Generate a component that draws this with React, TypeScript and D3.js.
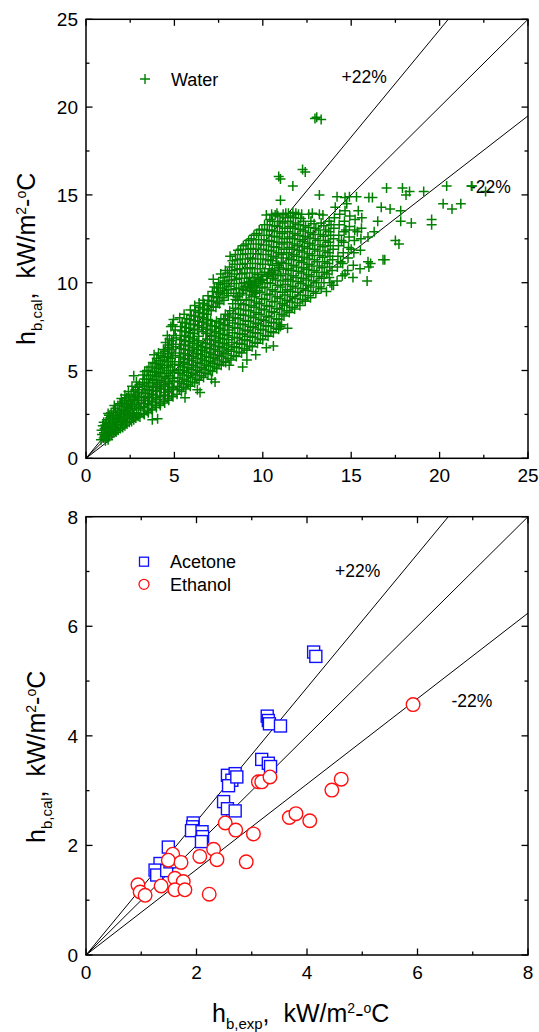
import React from 'react';
import * as d3 from 'd3';

// Water: measured vs. calculated boiling coefficients [h_exp, h_cal]
const waterPoints: [number, number][] = [
  // low heat flux core
  [0.85,1.05],[0.9,1.35],[0.88,1.6],[0.95,1.85],[1.0,1.15],[1.02,1.45],[1.05,1.7],[1.0,2.05],[1.1,1.0],[1.12,1.3],
  [1.15,1.55],[1.1,1.9],[1.18,2.2],[1.2,1.15],[1.25,1.4],[1.22,1.75],[1.28,2.0],[1.3,2.45],[1.32,1.25],[1.35,1.6],
  [1.38,1.9],[1.4,2.2],[1.42,2.6],[1.45,1.35],[1.48,1.7],[1.5,2.0],[1.52,2.35],[1.55,2.7],[1.58,1.45],[1.6,1.8],
  [1.62,2.1],[1.65,2.45],[1.68,2.85],[1.7,1.5],[1.72,1.95],[1.75,2.25],[1.78,2.6],[1.8,3.0],[1.82,1.6],[1.85,1.9],
  [1.88,2.3],[1.9,2.7],[1.92,3.1],[1.95,1.7],[1.98,2.05],[2.0,2.4],[2.02,2.8],[2.05,3.2],[2.08,1.75],[2.1,2.15],
  [2.12,2.55],[2.15,2.95],[2.18,3.3],[2.2,1.85],[2.22,2.25],[2.25,2.65],[2.28,3.05],[2.3,3.45],[2.32,1.95],[2.35,2.35],
  [2.38,2.75],[2.4,3.15],[2.42,3.55],[2.45,2.05],[2.48,2.45],[2.5,2.85],[2.52,3.25],[2.55,3.65],[2.58,2.1],[2.6,2.55],
  [2.62,2.95],[2.65,3.35],[2.68,3.8],[2.7,2.2],[2.72,2.6],[2.75,3.05],[2.78,3.5],[2.8,3.9],[2.82,2.3],[2.85,2.75],
  [2.88,3.15],[2.9,3.6],[2.92,4.05],[2.95,2.4],[2.98,2.85],[3.0,3.3],[3.0,3.75],[3.02,4.2],[2.7,4.7],[1.25,2.55],
  [1.05,1.25],[1.15,1.8],[1.25,1.05],[1.35,2.3],[1.45,1.55],[1.55,2.2],[1.65,1.65],[1.75,2.45],[1.85,2.1],[1.95,2.5],
  [2.05,1.95],[2.15,2.7],[2.25,2.05],[2.35,2.9],[2.45,2.25],[2.55,3.05],[2.65,2.4],[2.75,3.3],[2.85,2.5],[2.95,3.45],
  [2.4,3.8],[2.6,4.1],[2.85,4.35],[2.2,3.6],[2.0,3.4],[1.6,3.0],
  [3.75,2.2],[4.05,2.25],
  // 3 - 5
  [3.05,2.35],[3.1,2.75],[3.12,3.1],[3.15,3.5],[3.18,3.9],[3.2,4.3],[3.22,4.75],
  [3.3,2.5],[3.32,2.9],[3.35,3.3],[3.38,3.7],[3.4,4.1],[3.42,4.5],[3.45,5.0],
  [3.52,2.6],[3.55,3.05],[3.58,3.45],[3.6,3.85],[3.62,4.3],[3.65,4.7],[3.68,5.2],
  [3.75,2.75],[3.78,3.2],[3.8,3.6],[3.82,4.05],[3.85,4.45],[3.88,4.9],[3.9,5.4],[3.85,5.9],
  [3.98,2.9],[4.0,3.35],[4.02,3.8],[4.05,4.2],[4.08,4.65],[4.1,5.1],[4.12,5.55],[4.1,6.0],
  [4.2,3.0],[4.22,3.5],[4.25,3.95],[4.28,4.4],[4.3,4.85],[4.32,5.3],[4.35,5.75],[4.38,6.2],
  [4.45,3.15],[4.48,3.6],[4.5,4.1],[4.52,4.55],[4.55,5.0],[4.58,5.5],[4.6,5.95],[4.62,6.45],[4.6,7.0],
  [4.68,3.3],[4.7,3.8],[4.72,4.25],[4.75,4.7],[4.78,5.2],[4.8,5.7],[4.82,6.2],[4.85,6.7],[4.8,7.5],
  [4.92,3.5],[4.95,3.95],[4.98,4.4],[5.0,4.9],[5.02,5.35],[5.05,5.85],[5.08,6.35],[5.1,6.85],[5.05,7.3],[4.95,7.9],
  [3.25,2.55],[3.26,2.95],[3.27,3.3],[3.28,3.72],[3.3,4.1],[3.3,4.52],[3.32,4.95],
  [3.47,2.7],[3.48,3.1],[3.5,3.5],[3.5,3.92],[3.52,4.3],[3.54,4.75],[3.56,5.2],
  [3.7,2.8],[3.7,3.25],[3.72,3.65],[3.74,4.1],[3.75,4.5],[3.77,4.95],[3.78,5.45],
  [3.92,3.0],[3.93,3.45],[3.95,3.85],[3.96,4.3],[3.97,4.75],[3.99,5.2],[4.0,5.7],
  [4.15,3.1],[4.16,3.55],[4.17,4.0],[4.18,4.45],[4.2,4.9],[4.22,5.35],[4.24,5.85],
  [4.38,3.25],[4.4,3.75],[4.4,4.2],[4.42,4.65],[4.43,5.15],[4.45,5.6],[4.47,6.1],[4.5,6.6],
  [4.62,3.4],[4.62,3.9],[4.64,4.35],[4.65,4.85],[4.67,5.3],[4.68,5.8],[4.7,6.3],[4.72,6.8],
  [4.85,3.55],[4.86,4.05],[4.88,4.55],[4.9,5.0],[4.9,5.5],[4.92,6.0],[4.94,6.5],[4.96,7.0],[4.9,7.6],
  // 5 - 8
  [5.15,3.65],[5.18,4.1],[5.2,4.6],[5.22,5.05],[5.25,5.5],[5.28,6.0],[5.3,6.5],[5.32,7.0],[5.35,7.5],[5.3,8.0],
  [5.4,3.8],[5.42,4.25],[5.45,4.75],[5.48,5.2],[5.5,5.65],[5.52,6.2],[5.55,6.7],[5.58,7.2],[5.6,7.7],[5.55,8.2],
  [5.65,3.95],[5.68,4.4],[5.7,4.9],[5.72,5.35],[5.75,5.85],[5.78,6.4],[5.8,6.9],[5.82,7.4],[5.85,7.9],[5.9,8.45],
  [5.9,4.1],[5.92,4.6],[5.95,5.05],[5.98,5.55],[6.0,6.05],[6.02,6.55],[6.05,7.1],[6.08,7.6],[6.1,8.1],[6.15,8.7],
  [6.15,4.3],[6.18,4.75],[6.2,5.2],[6.22,5.7],[6.25,6.2],[6.28,6.7],[6.3,7.3],[6.32,7.8],[6.35,8.3],[6.4,8.85],
  [6.4,4.45],[6.42,4.9],[6.45,5.4],[6.48,5.9],[6.5,6.35],[6.55,7.45],[6.58,8.0],[6.6,8.5],[6.62,9.0],
  [6.65,4.6],[6.68,5.05],[6.7,5.55],[6.72,6.05],[6.75,6.55],[6.78,7.1],[6.8,7.65],[6.82,8.2],[6.85,8.7],[6.9,9.25],
  [6.9,4.8],[6.92,5.25],[6.95,5.75],[6.98,6.25],[7.0,6.75],[7.02,7.3],[7.05,7.85],[7.08,8.4],[7.1,8.95],[7.15,9.5],[7.2,10.2],
  [7.15,4.95],[7.18,5.4],[7.2,5.9],[7.22,6.4],[7.25,6.95],[7.28,7.5],[7.35,8.6],[7.38,9.15],[7.4,9.7],
  [7.4,5.1],[7.42,5.6],[7.45,6.1],[7.48,6.6],[7.5,7.1],[7.52,7.7],[7.55,8.8],[7.58,9.35],[7.6,9.9],[7.62,10.5],
  [7.65,5.3],[7.68,5.8],[7.7,6.3],[7.72,6.8],[7.75,7.3],[7.78,7.9],[7.8,9.0],[7.82,9.55],[7.85,10.1],[7.88,10.7],
  [7.9,5.45],[7.92,5.95],[7.95,6.45],[7.98,7.0],[8.0,7.55],[8.02,8.1],[8.05,9.25],[8.08,9.8],[8.1,10.35],[8.12,10.9],[8.15,11.5],
  [5.6,3.45],[6.3,3.9],[6.45,3.75],[7.1,4.5],[7.3,4.35],
  [5.28,3.9],[5.3,4.35],[5.32,4.85],[5.34,5.3],[5.36,5.75],[5.38,6.25],[5.4,6.75],[5.42,7.25],[5.44,7.75],
  [5.53,4.05],[5.55,4.5],[5.57,5.0],[5.59,5.45],[5.61,5.95],[5.63,6.45],[5.65,6.95],[5.67,7.45],[5.7,7.95],
  [5.78,4.2],[5.8,4.7],[5.82,5.15],[5.84,5.65],[5.86,6.15],[5.88,6.65],[5.9,7.15],[5.92,7.65],[5.95,8.15],
  [6.03,4.35],[6.05,4.85],[6.07,5.3],[6.09,5.8],[6.11,6.3],[6.13,6.8],[6.15,7.35],[6.18,7.85],[6.2,8.4],
  [6.28,4.5],[6.3,5.0],[6.32,5.45],[6.34,5.95],[6.36,6.45],[6.38,6.95],[6.4,7.55],[6.43,8.05],[6.45,8.6],
  [6.53,4.7],[6.55,5.15],[6.57,5.65],[6.59,6.15],[6.61,6.6],[6.63,7.2],[6.66,7.75],[6.68,8.25],[6.7,8.8],
  [6.78,4.85],[6.8,5.3],[6.82,5.8],[6.84,6.3],[6.86,6.8],[6.88,7.35],[6.9,7.9],[6.93,8.45],[6.95,9.0],
  [7.03,5.0],[7.05,5.5],[7.07,6.0],[7.09,6.5],[7.11,7.0],[7.13,7.55],[7.2,8.65],[7.22,9.2],[7.25,9.75],
  [7.28,5.2],[7.3,5.7],[7.32,6.2],[7.34,6.7],[7.36,7.2],[7.38,7.8],[7.45,8.9],[7.48,9.45],[7.5,10.0],
  [7.53,5.35],[7.55,5.85],[7.57,6.35],[7.59,6.85],[7.61,7.4],[7.63,7.95],[7.7,9.15],[7.72,9.7],[7.75,10.3],
  [7.78,5.5],[7.8,6.0],[7.82,6.55],[7.84,7.05],[7.86,7.6],[7.88,8.2],[7.95,9.4],[7.97,9.95],[8.0,10.55],
  [8.03,5.7],[8.05,6.2],[8.07,6.75],[8.09,7.3],[8.11,7.85],[8.13,8.4],[8.2,9.6],[8.22,10.15],[8.25,10.7],[8.28,11.25],
  // 8 - 11
  [8.2,5.6],[8.22,6.1],[8.25,6.6],[8.28,7.15],[8.3,7.7],[8.32,8.25],[8.35,9.4],[8.38,9.95],[8.4,10.5],[8.42,11.05],[8.45,11.6],
  [8.5,5.8],[8.52,6.3],[8.55,6.85],[8.58,7.4],[8.6,7.95],[8.62,8.5],[8.65,9.7],[8.68,10.25],[8.7,10.8],[8.72,11.35],[8.75,11.9],
  [8.8,6.0],[8.82,6.5],[8.85,7.05],[8.88,7.6],[8.9,8.15],[8.92,8.75],[8.95,10.0],[8.98,10.55],[9.0,11.1],[9.02,11.65],[9.05,12.2],
  [9.1,6.15],[9.12,6.7],[9.15,7.25],[9.18,7.8],[9.2,8.4],[9.22,9.0],[9.25,10.3],[9.28,10.85],[9.3,11.4],[9.32,11.95],[9.35,12.5],
  [9.4,6.35],[9.42,6.9],[9.45,7.45],[9.48,8.0],[9.5,8.6],[9.52,9.2],[9.55,10.55],[9.58,11.1],[9.6,11.65],[9.62,12.2],[9.65,12.8],
  [9.7,6.55],[9.72,7.1],[9.75,7.65],[9.78,8.2],[9.8,8.8],[9.82,9.45],[9.85,10.8],[9.88,11.35],[9.9,11.9],[9.92,12.45],[9.95,13.05],
  [10.0,6.75],[10.02,7.3],[10.05,7.85],[10.08,8.45],[10.1,9.05],[10.12,9.7],[10.15,11.05],[10.18,11.6],[10.2,12.15],[10.22,12.7],[10.25,13.3],[10.2,13.85],
  [10.3,6.95],[10.32,7.5],[10.35,8.05],[10.38,8.65],[10.4,9.3],[10.42,9.95],[10.45,11.25],[10.48,11.8],[10.5,12.35],[10.52,12.95],[10.55,13.5],
  [10.6,7.15],[10.62,7.7],[10.65,8.3],[10.68,8.9],[10.7,9.5],[10.72,10.15],[10.75,11.4],[10.78,12.0],[10.8,12.6],[10.82,13.2],[10.85,13.8],
  [10.9,7.35],[10.92,7.9],[10.95,8.5],[10.98,9.1],[11.0,9.75],[11.02,10.4],[11.05,11.6],[11.08,12.2],[11.1,12.8],[11.12,13.4],[11.15,13.9],
  [9.3,9.7],[9.9,10.2],[10.5,10.6],[10.9,11.0],[10.3,10.5],
  [9.25,9.55],[9.45,9.85],[9.62,10.05],[9.75,10.3],[9.95,10.45],[10.1,10.6],[10.22,10.35],[10.38,10.8],[10.55,11.0],
  [10.68,10.7],[10.8,11.1],[10.95,10.85],[11.05,11.15],[11.15,11.4],[9.55,9.75],[10.0,10.15],[10.62,10.45],
  [8.3,8.8],[8.45,9.05],[8.55,9.2],[8.7,9.3],[8.85,9.4],[8.9,9.6],[9.05,9.55],[9.15,9.75],[9.2,9.95],[9.35,9.9],
  [9.45,10.1],[9.4,9.5],[9.6,9.4],[9.7,10.45],[9.85,10.1],[9.3,10.05],[8.6,9.0],[9.0,9.8],[9.75,9.95],[9.55,10.3],
  [8.1,5.3],[8.86,5.2],[9.1,5.6],[9.6,5.9],[10.6,6.4],[11.0,7.5],[11.4,7.4],[10.2,6.3],
  [8.36,5.85],[8.38,6.35],[8.4,6.9],[8.42,7.45],[8.44,8.0],[8.46,8.55],[8.5,9.65],[8.52,10.2],[8.55,10.75],[8.57,11.3],[8.6,11.85],
  [8.66,6.05],[8.68,6.55],[8.7,7.1],[8.72,7.65],[8.74,8.2],[8.76,8.8],[8.8,9.95],[8.82,10.5],[8.85,11.05],[8.87,11.6],[8.9,12.1],
  [8.96,6.25],[8.98,6.75],[9.0,7.3],[9.02,7.85],[9.04,8.45],[9.06,9.05],[9.1,10.25],[9.12,10.8],[9.15,11.35],[9.17,11.9],[9.2,12.4],
  [9.26,6.4],[9.28,6.95],[9.3,7.5],[9.32,8.1],[9.34,8.7],[9.36,9.3],[9.4,10.55],[9.42,11.1],[9.45,11.65],[9.47,12.2],[9.5,12.7],
  [9.56,6.6],[9.58,7.15],[9.6,7.7],[9.62,8.3],[9.64,8.9],[9.66,9.55],[9.7,10.8],[9.72,11.35],[9.75,11.9],[9.77,12.45],[9.8,13.0],
  [9.86,6.8],[9.88,7.35],[9.9,7.9],[9.92,8.5],[9.94,9.1],[9.96,9.75],[10.0,11.05],[10.02,11.6],[10.05,12.15],[10.07,12.7],[10.1,13.3],
  [10.16,7.0],[10.18,7.55],[10.2,8.1],[10.22,8.7],[10.24,9.35],[10.26,10.0],[10.3,11.3],[10.32,11.85],[10.35,12.4],[10.37,13.0],[10.4,13.6],
  [10.46,7.2],[10.48,7.75],[10.5,8.35],[10.52,8.95],[10.54,9.6],[10.56,10.25],[10.6,11.5],[10.62,12.05],[10.65,12.65],[10.67,13.25],[10.7,13.85],
  [10.76,7.4],[10.78,7.95],[10.8,8.55],[10.82,9.2],[10.84,9.85],[10.86,10.5],[10.9,11.7],[10.92,12.3],[10.95,12.9],[10.97,13.5],
  [11.06,7.6],[11.08,8.2],[11.1,8.8],[11.12,9.45],[11.14,10.1],[11.16,10.75],[11.2,11.9],[11.22,12.5],[11.25,13.1],[11.27,13.7],
  // 11 - 14
  [11.2,8.1],[11.22,8.7],[11.25,9.3],[11.28,9.9],[11.3,10.5],[11.32,11.1],[11.35,11.7],[11.38,12.3],[11.4,12.9],[11.42,13.5],[11.45,13.95],
  [11.5,8.3],[11.52,8.9],[11.55,9.5],[11.58,10.1],[11.6,10.7],[11.62,11.3],[11.65,11.9],[11.68,12.5],[11.7,13.1],[11.72,13.7],
  [11.8,8.5],[11.82,9.1],[11.85,9.7],[11.88,10.3],[11.9,10.9],[11.92,11.5],[11.95,12.1],[11.98,12.7],[12.0,13.3],[12.02,13.9],
  [12.1,8.7],[12.12,9.3],[12.15,9.95],[12.18,10.55],[12.2,11.15],[12.22,11.75],[12.25,12.35],[12.28,12.95],[12.3,13.5],
  [12.4,8.95],[12.42,9.55],[12.45,10.15],[12.48,10.75],[12.5,11.35],[12.52,11.95],[12.55,12.55],[12.58,13.15],[12.6,13.9],
  [12.7,9.15],[12.72,9.75],[12.75,10.35],[12.78,10.95],[12.8,11.55],[12.82,12.15],[12.85,12.75],[12.9,13.35],
  [13.0,9.4],[13.02,10.0],[13.05,10.6],[13.08,11.2],[13.1,11.8],[13.12,12.4],[13.15,13.0],[13.2,13.9],
  [13.3,9.65],[13.32,10.25],[13.35,10.85],[13.38,11.45],[13.4,12.05],[13.42,12.65],[13.45,13.25],
  [13.6,9.5],[13.62,10.5],[13.65,11.1],[13.68,11.7],[13.7,12.3],[13.72,12.9],[13.75,13.5],
  [13.9,9.85],[13.92,10.7],[13.95,11.3],[13.98,11.9],[14.0,12.5],[14.02,13.1],[14.05,13.7],
  [11.36,8.4],[11.38,9.0],[11.4,9.6],[11.42,10.2],[11.44,10.8],[11.46,11.4],[11.5,12.0],[11.52,12.6],[11.55,13.2],[11.57,13.8],
  [11.66,8.6],[11.68,9.2],[11.7,9.8],[11.72,10.4],[11.74,11.0],[11.76,11.6],[11.8,12.2],[11.82,12.8],[11.85,13.4],[11.87,13.95],
  [11.96,8.85],[11.98,9.45],[12.0,10.05],[12.02,10.65],[12.04,11.25],[12.06,11.85],[12.1,12.45],[12.12,13.05],[12.15,13.65],
  [12.26,9.05],[12.28,9.65],[12.3,10.25],[12.32,10.85],[12.34,11.45],[12.36,12.05],[12.4,12.65],[12.42,13.25],
  [12.56,9.25],[12.58,9.85],[12.6,10.45],[12.62,11.05],[12.64,11.65],[12.66,12.25],[12.7,12.85],[12.72,13.5],
  [12.86,9.5],[12.88,10.1],[12.9,10.7],[12.92,11.3],[12.94,11.9],[12.96,12.5],[13.0,13.1],
  [13.16,9.75],[13.18,10.35],[13.2,10.95],[13.22,11.55],[13.24,12.15],[13.26,12.75],[13.3,13.4],
  [13.46,10.0],[13.48,10.6],[13.5,11.2],[13.52,11.8],[13.54,12.4],[13.56,13.0],
  [13.76,10.3],[13.78,10.9],[13.8,11.5],[13.82,12.1],[13.84,12.7],[13.86,13.3],
  [10.5,13.9],[10.8,13.95],[11.3,13.95],[11.7,14.0],[12.2,13.9],[12.8,13.95],[13.4,13.85],
  [10.9,16.05],[11.0,15.9],[12.25,16.45],[12.4,16.3],[11.7,15.5],[11.0,14.7],[13.2,15.0],
  [12.95,19.35],[13.3,19.3],[13.05,19.42],
  // 14 - 17
  [14.2,10.1],[14.22,10.9],[14.25,11.5],[14.28,12.1],[14.3,12.7],[14.32,13.3],[14.35,13.9],[14.2,14.9],
  [14.5,10.4],[14.52,11.1],[14.55,11.7],[14.58,12.3],[14.6,12.9],[14.62,13.5],[14.65,14.1],[14.65,14.85],
  [14.8,10.7],[14.82,11.4],[14.85,12.0],[14.88,12.6],[14.9,13.2],[14.92,13.8],[14.9,14.9],
  [15.1,10.3],[15.12,11.0],[15.15,11.7],[15.18,12.4],[15.2,13.0],[15.22,13.6],[15.3,14.9],
  [15.5,10.8],[15.52,11.85],[15.55,12.5],[15.58,13.1],[15.6,13.7],
  [15.9,10.1],[15.95,11.2],[16.0,10.9],[15.95,12.6],[16.0,14.85],[16.2,14.85],[16.1,11.1],
  [16.3,12.9],[16.5,13.5],[16.7,14.3],[16.8,11.3],[16.9,11.3],[17.0,15.4],[17.2,14.2],
  [14.75,14.5],[14.0,9.85],[13.8,10.0],[14.65,10.5],
  [14.4,11.2],[14.45,12.4],[14.7,13.0],[15.0,11.9],[15.35,12.9],[15.4,14.1],[14.1,14.3],
  // sparse high flux
  [17.5,12.4],[17.7,12.2],[17.8,13.5],[17.9,15.4],[17.8,14.1],[18.3,15.2],[18.4,13.4],[18.1,15.0],
  [19.1,15.2],[19.55,13.3],[19.55,13.6],[20.4,15.5],[20.2,14.5],[20.7,14.2],[21.2,14.5],[21.8,15.5],[22.6,15.2]
];

const acetonePoints: [number, number][] = [
  [4.12,5.53],[4.16,5.45],
  [3.28,4.36],[3.30,4.28],[3.32,4.22],[3.52,4.18],
  [3.18,3.57],[3.30,3.50],[3.34,3.44],
  [2.56,3.28],[2.70,3.31],[2.64,3.19],[2.58,3.09],[2.73,3.25],
  [2.49,2.80],[2.56,2.67],[2.70,2.63],
  [1.94,2.41],[1.93,2.34],[1.91,2.27],[2.10,2.25],[2.11,2.16],[2.09,2.07],
  [1.49,1.97],
  [1.34,1.67],[1.25,1.55],[1.28,1.46],[1.46,1.54],[1.52,1.70]
];

const ethanolPoints: [number, number][] = [
  [5.92,4.57],
  [3.12,3.16],[3.18,3.16],[3.33,3.25],
  [4.45,3.01],[4.62,3.21],
  [3.68,2.51],[3.80,2.58],[4.05,2.45],
  [2.52,2.41],[2.71,2.28],[3.03,2.21],
  [2.31,1.93],[2.37,1.74],[2.06,1.80],[2.90,1.70],
  [1.57,1.84],[1.49,1.73],[1.72,1.69],
  [1.61,1.40],[1.76,1.34],[1.36,1.26],[1.61,1.19],[1.79,1.19],
  [0.94,1.28],[0.98,1.15],[1.07,1.09],[2.23,1.11]
];

const waterTicks = [0, 5, 10, 15, 20, 25];
const solventTicks = [0, 2, 4, 6, 8];
const bandRatios = [1.22, 1, 0.78];

const FONT = 'Liberation Sans, Arial, Helvetica, sans-serif';
const X0 = 86;
const X1 = 528;

type PanelProps = {
  max: number;
  ticks: number[];
  minorStep: number;
  top: number;
  bottom: number;
  children: (x: d3.ScaleLinear<number, number>, y: d3.ScaleLinear<number, number>) => React.ReactNode;
};

function Panel({ max, ticks, minorStep, top, bottom, children }: PanelProps) {
  const x = d3.scaleLinear().domain([0, max]).range([X0, X1]);
  const y = d3.scaleLinear().domain([0, max]).range([bottom, top]);
  const minors = d3.range(0, max + 1e-9, minorStep).filter(v => !ticks.some(t => Math.abs(t - v) < 1e-9));
  const clipId = `clip-${Math.round(top)}`;
  const maj = 6.5;
  const mnr = 3.5;
  return (
    <g>
      <defs>
        <clipPath id={clipId}>
          <rect x={X0} y={top} width={X1 - X0} height={bottom - top} />
        </clipPath>
      </defs>
      <g clipPath={`url(#${clipId})`}>
        {bandRatios.map(r => {
          const pts: [number, number][] = [[0, 0], [max, max * r]];
          const d = d3.line<[number, number]>().x(p => x(p[0])).y(p => y(p[1]))(pts) as string;
          return <path key={r} d={d} stroke="#000" strokeWidth={1} fill="none" />;
        })}
        {children(x, y)}
      </g>
      <rect x={X0} y={top} width={X1 - X0} height={bottom - top} fill="none" stroke="#000" strokeWidth={1.5} />
      {ticks.map(t => (
        <g key={`M${t}`} stroke="#000" strokeWidth={1.3}>
          <line x1={x(t)} x2={x(t)} y1={bottom} y2={bottom - maj} />
          <line x1={x(t)} x2={x(t)} y1={top} y2={top + maj} />
          <line x1={X0} x2={X0 + maj} y1={y(t)} y2={y(t)} />
          <line x1={X1} x2={X1 - maj} y1={y(t)} y2={y(t)} />
        </g>
      ))}
      {minors.map(t => (
        <g key={`m${t}`} stroke="#000" strokeWidth={1.3}>
          <line x1={x(t)} x2={x(t)} y1={bottom} y2={bottom - mnr} />
          <line x1={x(t)} x2={x(t)} y1={top} y2={top + mnr} />
          <line x1={X0} x2={X0 + mnr} y1={y(t)} y2={y(t)} />
          <line x1={X1} x2={X1 - mnr} y1={y(t)} y2={y(t)} />
        </g>
      ))}
      {ticks.map(t => (
        <text key={`xl${t}`} x={x(t)} y={bottom + 23.5} textAnchor="middle" fontSize={19} fontFamily={FONT}>{t}</text>
      ))}
      {ticks.map(t => (
        <text key={`yl${t}`} x={78} y={y(t) + 7} textAnchor="end" fontSize={19} fontFamily={FONT}>{t}</text>
      ))}
    </g>
  );
}

function UnitTitle({ sub, transform }: { sub: string; transform: string }) {
  return (
    <text transform={transform} fontSize={25} fontFamily={FONT} fill="#000">
      <tspan>h</tspan>
      <tspan fontSize={15} dy={6.5}>{sub}</tspan>
      <tspan dy={-6.5}>,</tspan>
      <tspan>{'\u00a0\u00a0kW/m'}</tspan>
      <tspan fontSize={14} dy={-9}>2</tspan>
      <tspan dy={9}>-</tspan>
      <tspan fontSize={14} dy={-9}>o</tspan>
      <tspan dy={9}>C</tspan>
    </text>
  );
}

const plus = (cx: number, cy: number, s = 5) => `M${cx - s},${cy}H${cx + s}M${cx},${cy - s}V${cy + s}`;

export default function App() {
  const green = '#008000';
  const blue = '#1010ff';
  const red = '#ff1010';
  return (
    <svg width={539} height={1032} style={{ position: 'absolute', left: 0, top: 0, background: '#fff' }}>
      <rect x={0} y={0} width={539} height={1032} fill="#fff" />
      <Panel max={25} ticks={waterTicks} minorStep={2.5} top={19.3} bottom={458.3}>
        {(x, y) => (
          <path
            d={waterPoints.map(([a, b]) => plus(x(a), y(b))).join('')}
            stroke={green}
            strokeWidth={1.5}
            fill="none"
          />
        )}
      </Panel>
      <Panel max={8} ticks={solventTicks} minorStep={1} top={516.7} bottom={955}>
        {(x, y) => (
          <g>
            {acetonePoints.map(([a, b], i) => (
              <rect key={`a${i}`} x={x(a) - 6} y={y(b) - 6} width={12} height={12} fill="#fff" stroke={blue} strokeWidth={1.4} />
            ))}
            {ethanolPoints.map(([a, b], i) => (
              <circle key={`e${i}`} cx={x(a)} cy={y(b)} r={6.8} fill="#fff" stroke={red} strokeWidth={1.4} />
            ))}
          </g>
        )}
      </Panel>

      <path d={plus(145, 79)} stroke={green} strokeWidth={1.4} fill="none" />
      <text x={171} y={85.7} fontSize={18} fontFamily={FONT}>Water</text>
      <text x={341.5} y={83.3} fontSize={17.5} fontFamily={FONT}>+22%</text>
      <text x={470} y={192.7} fontSize={17.5} fontFamily={FONT}>-22%</text>
      <path d={plus(472, 186)} stroke={green} strokeWidth={1.4} fill="none" />

      <rect x={139.5} y={557.2} width={9} height={9} fill="#fff" stroke={blue} strokeWidth={1.3} />
      <text x={170} y={568.3} fontSize={18} fontFamily={FONT}>Acetone</text>
      <circle cx={144} cy={584.3} r={5} fill="#fff" stroke={red} strokeWidth={1.3} />
      <text x={170} y={591} fontSize={18} fontFamily={FONT}>Ethanol</text>
      <text x={335} y={577.3} fontSize={17.5} fontFamily={FONT}>+22%</text>
      <text x={451.5} y={706.7} fontSize={17.5} fontFamily={FONT}>-22%</text>

      <UnitTitle sub="b,cal" transform="translate(35,345) rotate(-90)" />
      <UnitTitle sub="b,cal" transform="translate(45,843) rotate(-90)" />
      <UnitTitle sub="b,exp" transform="translate(212,1022)" />
    </svg>
  );
}
